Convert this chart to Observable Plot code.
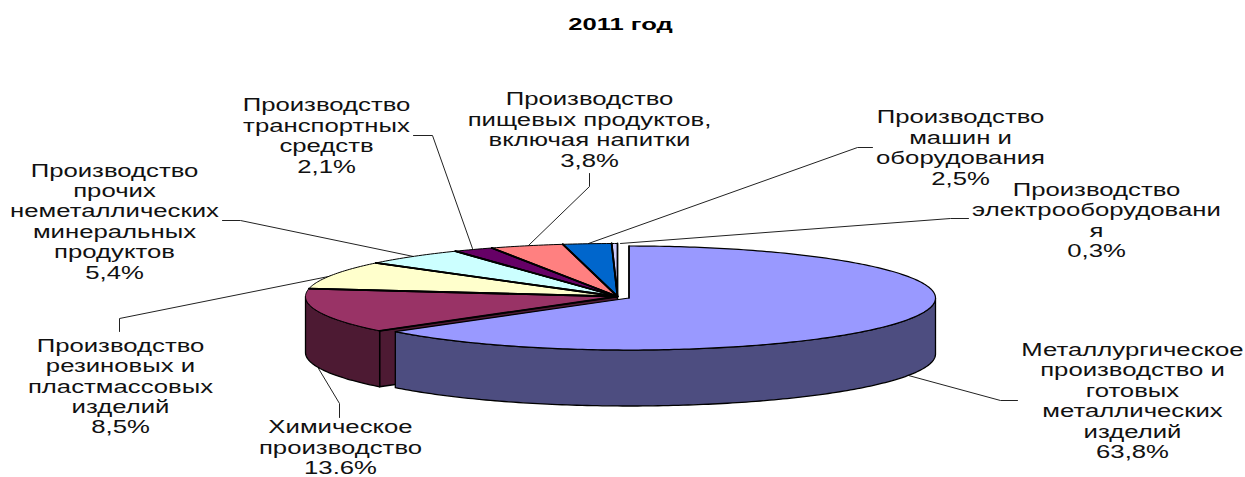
<!DOCTYPE html>
<html><head><meta charset="utf-8">
<script src="https://cdn.jsdelivr.net/npm/d3@7"></script>
<script src="https://cdn.jsdelivr.net/npm/@observablehq/plot@0.6"></script>
<style>html,body{margin:0;padding:0;background:#fff}svg{display:block}</style>
</head><body><div id="chart"></div>
<script>
const title = "2011 год";
const names = [
  "Металлургическое\nпроизводство и\nготовых\nметаллических\nизделий",
  "Химическое\nпроизводство",
  "Производство\nрезиновых и\nпластмассовых\nизделий",
  "Производство\nпрочих\nнеметаллических\nминеральных\nпродуктов",
  "Производство\nтранспортных\nсредств",
  "Производство\nпищевых продуктов,\nвключая напитки",
  "Производство\nмашин и\nоборудования",
  "Производство\nэлектрооборудовани\nя"
];
const values = [63.8, 13.6, 8.5, 5.4, 2.1, 3.8, 2.5, 0.3];
const valueLabels = ["63,8%", "13.6%", "8,5%", "5,4%", "2,1%", "3,8%", "2,5%", "0,3%"];
const topColors = ["#9999ff", "#993366", "#ffffcc", "#ccffff", "#660066", "#ff8080", "#0066cc", "#ccccff"];
const wallColors = ["#4d4d80", "#4d1a33", "#80806a", "#668080", "#330033", "#804040", "#003366", "#666680"];

// layout, separate from the data
const W = 1245, H = 477;
const rest = {cx: 617, cy: 296, rx: 312, ry: 53};
const lifted = {cx: 628.5, cy: 297.5, rx: 306.5, ry: 52};
const depth = 56;
const labelCenters = [[1132,400],[340,446.5],[120,385.5],[114,220.5],[326,135],[589,129],[960,147],[1096,219.5]];
const leaders = [
  [[908,375],[1000,400],[1017,400]],
  [[318,368],[339,403],[339,417]],
  [[333,275],[119,318],[119,331]],
  [[413,256],[240,220],[222,220]],
  [[472,248],[432,135],[413,135]],
  [[528,245],[589,186],[589,173]],
  [[588,243],[857,147],[872,147]],
  [[620,243],[950,218],[968,218]]
];

const total = d3.sum(values);
let acc = 0;
const slices = values.map((v, i) => {
  const a0 = acc / total * 2 * Math.PI; acc += v;
  return {i, a0, a1: acc / total * 2 * Math.PI, e: i === 0 ? lifted : rest};
});
const pt = (e, a, dz = 0) => ({x: e.cx + e.rx * Math.sin(a), y: e.cy - e.ry * Math.cos(a) + dz});
const arc = (e, a0, a1, dz = 0) => {
  const n = Math.max(2, Math.ceil((a1 - a0) * 60));
  return d3.range(n + 1).map(k => pt(e, a0 + (a1 - a0) * k / n, dz));
};
const hub = (e, dz = 0) => ({x: e.cx, y: e.cy + dz});
const topPoly = s => [hub(s.e), ...arc(s.e, s.a0, s.a1), hub(s.e)];
const wallPoly = (e, a0, a1) => [...arc(e, a0, a1), ...arc(e, a0, a1, depth).reverse(), pt(e, a0)];
const line = (pts, o) => Plot.line(pts, {x: "x", y: "y", strokeLinejoin: "round", ...o});

const [metal, chem] = slices;
const marks = [];
// Leader lines sit behind the pie
leaders.forEach(l => marks.push(line(l.map(([x, y]) => ({x, y})), {stroke: "#222", strokeWidth: 1})));
// Walls of the chemical slice: cut face, then outer face
marks.push(line([hub(rest), pt(rest, chem.a0), pt(rest, chem.a0, depth), hub(rest, depth), hub(rest)],
  {fill: wallColors[1], stroke: "#000", strokeWidth: 1.5}));
marks.push(line(wallPoly(rest, chem.a0, 1.5 * Math.PI), {fill: wallColors[1], stroke: "#000", strokeWidth: 1.3}));
// Wall of the metallurgy slice
marks.push(line(wallPoly(lifted, Math.PI / 2, metal.a1), {fill: wallColors[0], stroke: "#000", strokeWidth: 1.3}));
// Tops: the resting slices, then the pulled-out one
slices.slice(1).forEach(s => marks.push(line(topPoly(s), {fill: topColors[s.i], stroke: "#000", strokeWidth: 1})));
slices.slice(1).forEach(s => marks.push(line([pt(s.e, s.a0), hub(s.e), pt(s.e, s.a1)], {stroke: "#000", strokeWidth: 1.8})));
marks.push(line(topPoly(metal), {fill: topColors[0], stroke: "#000", strokeWidth: 1.2}));
marks.push(Plot.line([pt(lifted, 0), hub(lifted)], {x: "x", y: "y", stroke: "#000", strokeWidth: 1.6}));

const labels = names.map((n, i) => ({text: n + "\n" + valueLabels[i], x: labelCenters[i][0], y: labelCenters[i][1]}));
marks.push(Plot.text(labels, {x: "x", y: "y", text: "text", textAnchor: "middle", lineAnchor: "middle",
  lineHeight: 1.166, fontSize: 17.5, fontFamily: "Liberation Sans, Arial, sans-serif", fill: "#111", className: "lab"}));
marks.push(Plot.text([{text: title, x: 620, y: 24}], {x: "x", y: "y", text: "text", textAnchor: "middle", lineAnchor: "middle",
  fontSize: 16, fontWeight: "bold", fontFamily: "Liberation Sans, Arial, sans-serif", fill: "#000", className: "ttl"}));

const chart = Plot.plot({
  width: W, height: H, margin: 0,
  x: {domain: [0, W], range: [0, W], axis: null},
  y: {domain: [0, H], range: [0, H], axis: null},
  marks
});
// The reference's type is stretched horizontally
const stretch = (sel, k) => chart.querySelectorAll(sel + " text").forEach(t => {
  t.setAttribute("transform", (t.getAttribute("transform") || "") + ` scale(${k},1)`);
});
stretch("g.lab", 1.47);
stretch("g.ttl", 1.6);
document.getElementById("chart").append(chart);
</script></body></html>
